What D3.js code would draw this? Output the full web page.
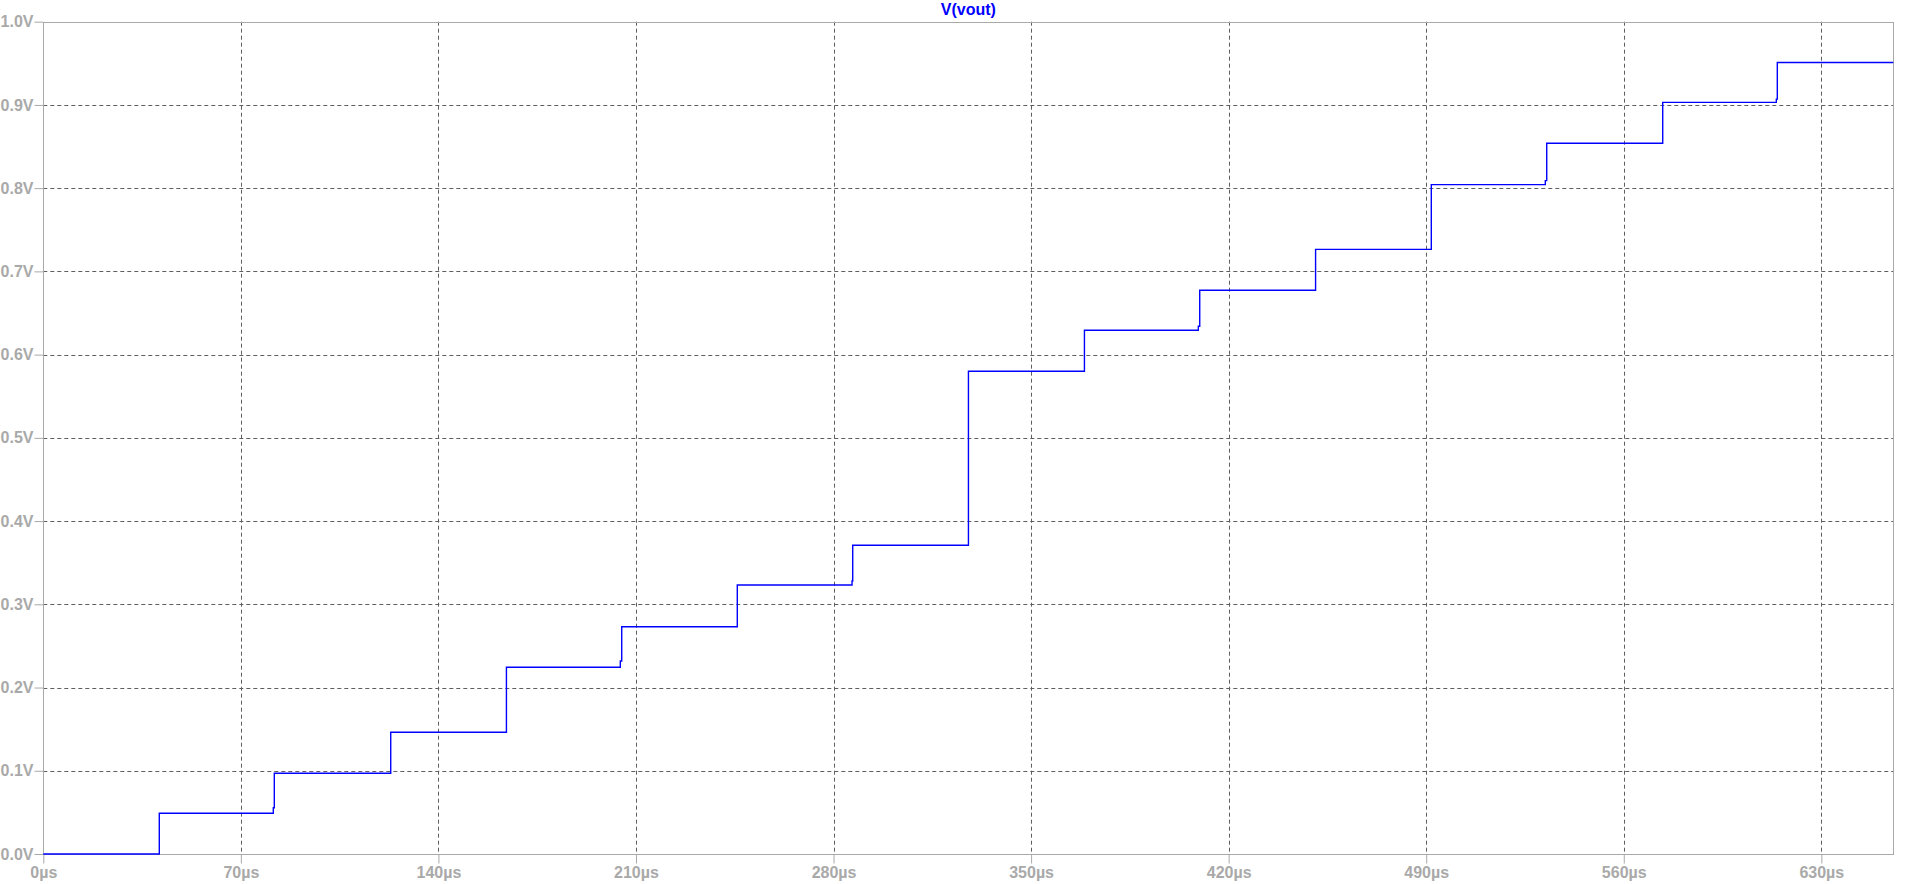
<!DOCTYPE html>
<html>
<head>
<meta charset="utf-8">
<script src="https://cdn.jsdelivr.net/npm/d3@7"></script>
<style>
  html, body { margin: 0; padding: 0; background: #fff; }
  svg { display: block; }
  text { font-family: "Liberation Sans", Arial, sans-serif; font-weight: bold; }
</style>
</head>
<body>
<svg id="chart" width="1916" height="884"></svg>
<script>
// Waveform samples (step-after): time in µs, voltage in V
const timesUs = [0, 41.1, 81.5, 81.85, 123.1, 164.1, 204.45, 204.95, 245.9, 286.55, 286.8,
                 327.8, 368.9, 409.25, 409.75, 450.8, 491.8, 532.2, 532.7, 573.8, 614.05, 614.4, 655.5];
const voltsV  = [0, 0.049, 0.0556, 0.097, 0.1462, 0.2243, 0.2319, 0.2731, 0.3232, 0.328, 0.3709,
                 0.580, 0.6292, 0.634, 0.6773, 0.7265, 0.8042, 0.809, 0.8539, 0.9031, 0.907, 0.951, 0.951];
const xTicks = [0, 70, 140, 210, 280, 350, 420, 490, 560, 630];
const yTicks = [0, 0.1, 0.2, 0.3, 0.4, 0.5, 0.6, 0.7, 0.8, 0.9, 1.0];
const traceName = "V(vout)";

(function () {
const svg = d3.select("#chart");
const pL = 43.3, pR = 1893.3, pT = 21.7, pB = 854;
const x = d3.scaleLinear().domain([0, 655.5]).range([pL, pR]);
const y = d3.scaleLinear().domain([0, 1.0]).range([pB, pT]);

const axisColor = "#a9a9a9";
const gridColor = "#5f5f5f";

// Grid
const grid = svg.append("g");
grid.selectAll("line.vg").data(xTicks.filter(d => d > 0)).join("line")
  .attr("x1", d => Math.round(x(d)) + 0.5).attr("x2", d => Math.round(x(d)) + 0.5)
  .attr("y1", pT).attr("y2", pB)
  .attr("stroke", gridColor).attr("stroke-width", 1).attr("stroke-dasharray", "4,3");
grid.selectAll("line.hg").data(yTicks.filter(d => d > 0 && d < 1)).join("line")
  .attr("y1", d => Math.round(y(d)) + 0.5).attr("y2", d => Math.round(y(d)) + 0.5)
  .attr("x1", pL).attr("x2", pR)
  .attr("stroke", gridColor).attr("stroke-width", 1).attr("stroke-dasharray", "4,3");

// Frame
svg.append("rect")
  .attr("x", Math.round(pL) + 0.5).attr("y", Math.round(pT) + 0.5)
  .attr("width", Math.round(pR) - Math.round(pL)).attr("height", Math.round(pB) - Math.round(pT))
  .attr("fill", "none").attr("stroke", axisColor).attr("stroke-width", 1);

// Axes
const xAxis = d3.axisBottom(x).tickValues(xTicks).tickSize(9).tickPadding(3)
  .tickFormat(d => d + "µs");
const gx = svg.append("g").attr("transform", `translate(0,${Math.round(pB) + 0.5})`).call(xAxis);
gx.select(".domain").remove();
gx.selectAll("line").attr("stroke", axisColor);
gx.selectAll("text").attr("fill", axisColor).attr("font-size", 16)
  .attr("font-family", "'Liberation Sans', Arial, sans-serif").attr("font-weight", "bold");

const yAxis = d3.axisLeft(y).tickValues(yTicks).tickSize(9).tickPadding(1)
  .tickFormat(d => d.toFixed(1) + "V");
const gy = svg.append("g").attr("transform", `translate(${Math.round(pL) + 0.5},0)`).call(yAxis);
gy.select(".domain").remove();
gy.selectAll("line").attr("stroke", axisColor);
gy.selectAll("text").attr("fill", axisColor).attr("font-size", 16)
  .attr("font-family", "'Liberation Sans', Arial, sans-serif").attr("font-weight", "bold");

// Trace
const pts = timesUs.map((t, i) => [t, voltsV[i]]);
const line = d3.line().x(d => x(d[0])).y(d => y(d[1])).curve(d3.curveStepAfter);
svg.append("path").datum(pts)
  .attr("d", line).attr("fill", "none")
  .attr("stroke", "#0000ff").attr("stroke-width", 1.4);

// Title
svg.append("text")
  .attr("x", (pL + pR) / 2).attr("y", 15)
  .attr("text-anchor", "middle").attr("font-size", 16)
  .attr("fill", "#0000ff").text(traceName);
})();
</script>
</body>
</html>
